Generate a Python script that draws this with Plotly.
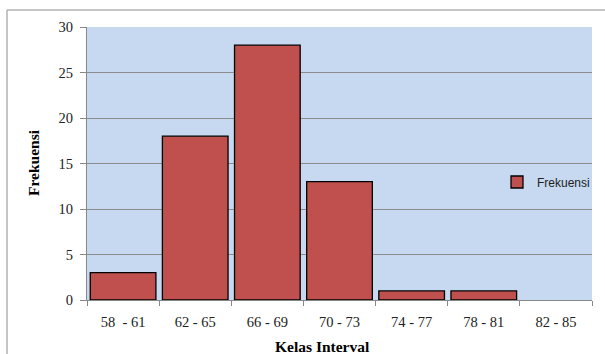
import plotly.graph_objects as go

categories = ["58  - 61", "62 - 65", "66 - 69", "70 - 73", "74 - 77", "78 - 81", "82 - 85"]
frekuensi = [3, 18, 28, 13, 1, 1, 0]
y_ticks = [0, 5, 10, 15, 20, 25, 30]

W, H = 605, 354
L, R, T, B = 87, 13, 27, 54
pw, ph = W - L - R, H - T - B

def px_x(x):
    return (x - L) / pw

def px_y(y):
    return (T + ph - y) / ph

fig = go.Figure()
fig.add_trace(go.Bar(
    x=categories, y=frekuensi, name="Frekuensi",
    marker=dict(color="#C0504D",
                line=dict(color="black", width=[1.3 if v > 0 else 0 for v in frekuensi])),
    showlegend=True,
))

serif = "Liberation Serif, Times New Roman, serif"
fig.update_layout(
    width=W, height=H,
    margin=dict(l=L, r=R, t=T, b=B, autoexpand=False),
    paper_bgcolor="white",
    plot_bgcolor="#C6D9F0",
    bargap=0.09,
    font=dict(family=serif, size=14, color="#222"),
    xaxis=dict(
        type="category", tickson="boundaries", ticks="outside", ticklen=5,
        tickcolor="#888", showline=True, linecolor="#888", linewidth=1,
        showgrid=False, tickfont=dict(family=serif, size=14.5, color="#222"),
        ticklabelstandoff=9,
        range=[-0.5, 6.5],
    ),
    yaxis=dict(
        range=[0, 30], tickvals=y_ticks, ticks="outside", ticklen=6,
        tickcolor="#888", showline=True, linecolor="#888", linewidth=1,
        showgrid=True, gridcolor="#8C8C8C", gridwidth=1, zeroline=False,
        tickfont=dict(family=serif, size=14.5, color="#222"),
        ticklabelstandoff=4,
    ),
    legend=dict(
        x=px_x(497), y=px_y(182), xanchor="left", yanchor="middle",
        bgcolor="rgba(0,0,0,0)", font=dict(family="Liberation Sans, Arial, sans-serif", size=12, color="#222"),
        itemwidth=30, tracegroupgap=0,
    ),
    annotations=[
        dict(text="<b>Kelas Interval</b>", xref="paper", yref="paper",
             x=px_x(322), y=px_y(346), xanchor="center", yanchor="middle", showarrow=False,
             font=dict(family=serif, size=15.5, color="black")),
        dict(text="<b>Frekuensi</b>", xref="paper", yref="paper", textangle=-90,
             x=px_x(33), y=px_y(163), xanchor="center", yanchor="middle", showarrow=False,
             font=dict(family=serif, size=15.5, color="black")),
    ],
    shapes=[dict(
        type="rect", xref="paper", yref="paper",
        x0=px_x(7), x1=px_x(W + 5),
        y0=px_y(H + 5), y1=px_y(10),
        line=dict(color="#8C8C8C", width=1), fillcolor="rgba(0,0,0,0)", layer="below",
    )],
)

fig.write_html("out.html", config={"displayModeBar": False},
               post_script="document.body.style.margin='0';document.body.style.overflow='hidden';")
